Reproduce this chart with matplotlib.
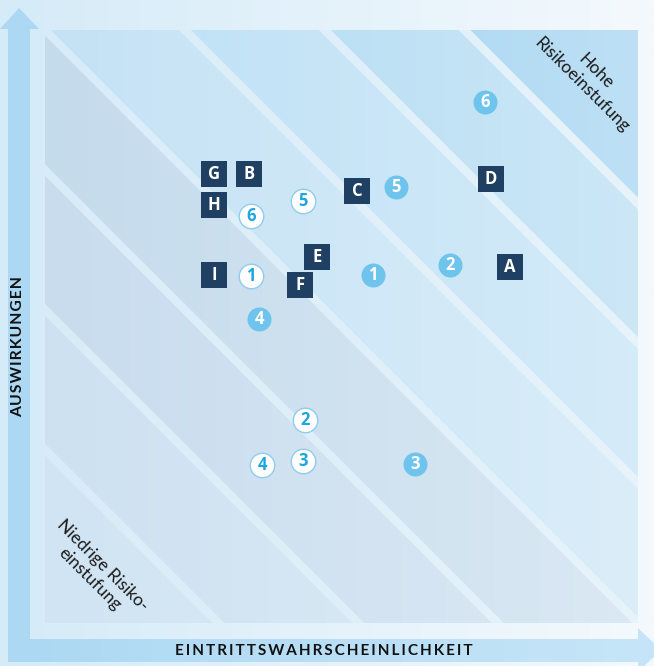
import numpy as np
import matplotlib
matplotlib.use("Agg")
import matplotlib.pyplot as plt
from matplotlib.patches import Polygon
from matplotlib.colors import to_rgb
from matplotlib.font_manager import FontProperties

# --- Daten (Achsen 0..100: Eintrittswahrscheinlichkeit / Auswirkungen) ---
risk_letters = ["A", "B", "C", "D", "E", "F", "G", "H", "I"]
risk_prob = [78.4, 34.4, 52.6, 75.2, 45.9, 43.0, 28.5, 28.5, 28.5]
risk_impact = [60.0, 75.7, 72.8, 74.9, 61.7, 57.0, 75.7, 70.5, 58.7]

filled_labels = ["1", "2", "3", "4", "5", "6"]
filled_prob = [55.3, 68.3, 62.4, 36.1, 59.2, 74.2]
filled_impact = [58.7, 60.4, 26.8, 51.3, 73.5, 87.9]

open_labels = ["1", "2", "3", "4", "5", "6"]
open_prob = [34.7, 43.8, 43.5, 36.6, 43.5, 34.7]
open_impact = [58.5, 34.2, 27.3, 26.6, 71.2, 68.6]

# Grenzen der diagonalen Risikozonen (Summe Wahrscheinlichkeit + Auswirkung, /100)
zone_bounds = [0.292, 0.528, 0.764, 1.0, 1.236, 1.472, 1.708]
zone_colors = ["#d0e4f3", "#cde1f1", "#c8dcee", "#c4dbec",
               "#c4e2f5", "#bbdff5", "#add9f2", "#95cdef"]

x_label = "EINTRITTSWAHRSCHEINLICHKEIT"
y_label = "AUSWIRKUNGEN"
high_label = "Hohe\nRisikoeinstufung"
low_label = "Niedrige Risiko-\neinstufung"

W, H = 654, 666
DPI = 100
FONT = ["Lato", "DejaVu Sans"]
MARK_FONT = ["Open Sans", "DejaVu Sans"]


def hgrad(c0, c1, n=256):
    t = np.linspace(0, 1, n)[None, :, None]
    return (1 - t) * np.array(to_rgb(c0)) + t * np.array(to_rgb(c1))


def tracked(fig, text, length, size=11):
    # Sperrsatz mit Haarspatien; Anzahl und Schriftgroesse so, dass die Laenge passt
    renderer = fig.canvas.get_renderer()
    best = None
    for k in range(1, 5):
        s = ("\u200a" * k).join(text)
        fp = FontProperties(family=FONT, weight="bold", size=size)
        w = renderer.get_text_width_height_descent(s, fp, ismath=False)[0]
        if best is None or abs(w - length) < abs(best[1] - length):
            best = (s, w)
    return best[0], size * length / best[1]


fig = plt.figure(figsize=(W / DPI, H / DPI), dpi=DPI)

# === Hintergrund mit Pfeilen (Pixelkoordinaten) ===
bg = fig.add_axes([0, 0, 1, 1])
bg.imshow(hgrad("#d5ebf8", "#f4f9fd"), extent=(0, W, H, 0), aspect="auto", zorder=0)

left_arrow = Polygon([(8, 662), (8, 29), (0, 29), (19, 8), (39, 29), (30, 29), (30, 662)],
                     closed=True, facecolor="#acd8f3", edgecolor="none", zorder=1)
bg.add_patch(left_arrow)

bottom_arrow = Polygon([(8, 639), (638, 639), (638, 628), (661, 650), (638, 672), (638, 662), (8, 662)],
                       closed=True, facecolor="none", edgecolor="none")
bg.add_patch(bottom_arrow)
arr_img = bg.imshow(hgrad("#acd8f3", "#c6e5f8"), extent=(0, W, H, 0), aspect="auto", zorder=1)
arr_img.set_clip_path(bottom_arrow)

xs, xsize = tracked(fig, x_label, 298)
ys, ysize = tracked(fig, y_label, 141)
bg.text(324, 651, xs, ha="center", va="center", fontsize=xsize, fontweight="bold",
        family=FONT, color="#111111", zorder=3)
bg.text(18.5, 347, ys, ha="center", va="center", rotation=90, fontsize=ysize,
        fontweight="bold", family=FONT, color="#111111", zorder=3)
bg.set_xlim(0, W)
bg.set_ylim(H, 0)
bg.axis("off")

# === Risikomatrix ===
ax = fig.add_axes([45 / W, (H - 623) / H, 593 / W, 593 / H])
n = 900
g = np.linspace(0, 100, n)
uu, ww = np.meshgrid(g, g)
s = (uu + ww) / 100
idx = np.searchsorted(zone_bounds, s)
img = np.array([to_rgb(c) for c in zone_colors])[idx]
dist = np.min(np.abs(s[..., None] - np.array(zone_bounds)), axis=-1)
img[dist < 0.0099] = to_rgb("#d8ecf8")
alpha = (0.38 * uu / 100)[..., None]
img = img * (1 - alpha) + alpha
ax.imshow(img, extent=(0, 100, 0, 100), origin="lower", aspect="auto", zorder=0,
          interpolation="bilinear")

ax.scatter(risk_prob, risk_impact, marker="s", s=(26 * 0.72) ** 2, c="#1f3f63",
           linewidths=0, zorder=3)
for lab, x, y in zip(risk_letters, risk_prob, risk_impact):
    ax.text(x, y, lab, ha="center", va="center", color="white", fontsize=12,
            fontweight="bold", family=MARK_FONT, zorder=4)

ax.scatter(filled_prob, filled_impact, marker="o", s=(24 * 0.72) ** 2, c="#6ec4ec",
           linewidths=0, zorder=3)
for lab, x, y in zip(filled_labels, filled_prob, filled_impact):
    ax.text(x, y, lab, ha="center", va="center", color="white", fontsize=12,
            fontweight="bold", family=MARK_FONT, zorder=4)

ax.scatter(open_prob, open_impact, marker="o", s=(24.5 * 0.72) ** 2, facecolor="white",
           edgecolor="#8fcdef", linewidths=1, zorder=3)
for lab, x, y in zip(open_labels, open_prob, open_impact):
    ax.text(x, y, lab, ha="center", va="center", color="#1fa5e0", fontsize=12,
            fontweight="bold", family=MARK_FONT, zorder=4)

ax.text(91.7, 91.9, high_label, rotation=-45, rotation_mode="anchor", ha="center",
        va="center", multialignment="center", fontsize=12.5, family=FONT, color="#1a1a1a")
ax.text(8.6, 8.6, low_label, rotation=-45, rotation_mode="anchor", ha="center",
        va="center", multialignment="center", fontsize=12.5, family=FONT, color="#1a1a1a")

ax.set_xlim(0, 100)
ax.set_ylim(0, 100)
ax.axis("off")

fig.savefig("out.png", dpi=DPI)
